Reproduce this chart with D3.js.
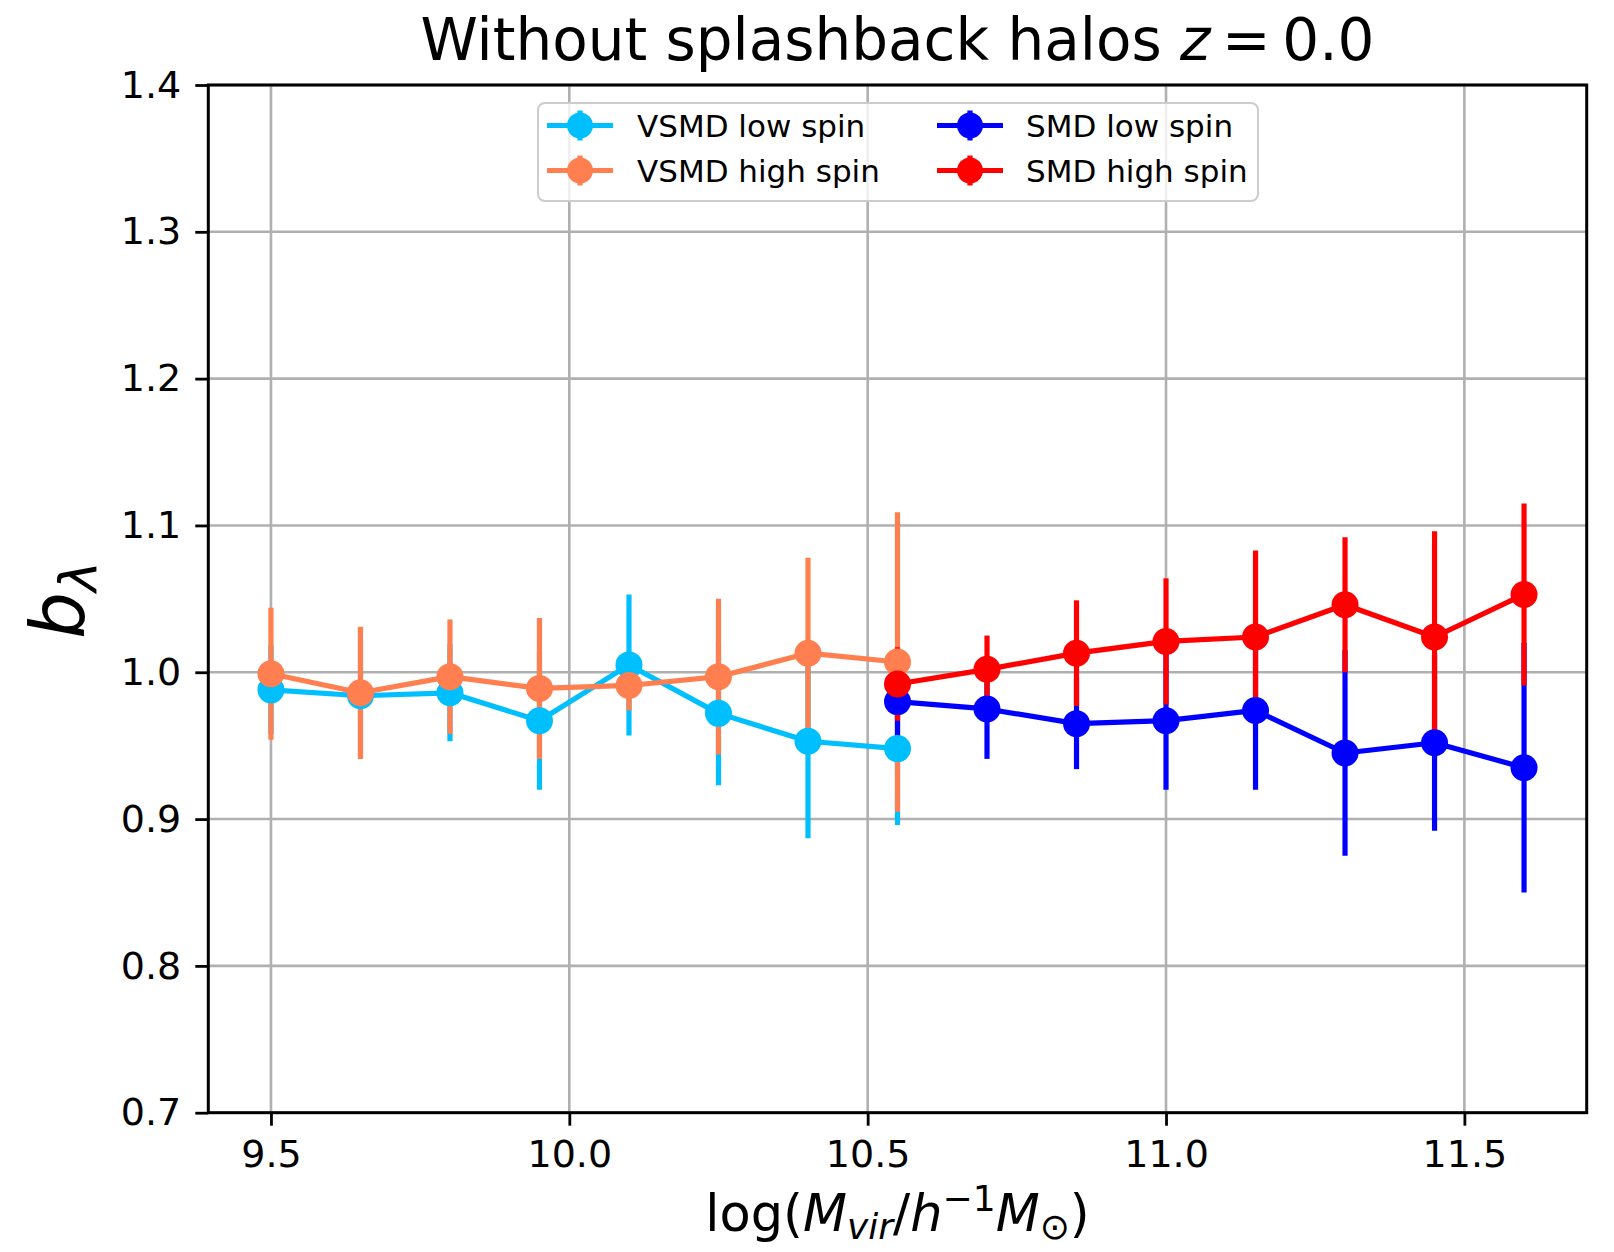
<!DOCTYPE html>
<html>
<head>
<meta charset="utf-8">
<script src="https://cdn.jsdelivr.net/npm/d3@7"></script>
<style>
  html, body { margin: 0; padding: 0; background: #ffffff; }
  svg { display: block; }
  text { font-family: "DejaVu Sans", sans-serif; fill: #000; }
</style>
</head>
<body>
<div id="chart"></div>
<script>
// ---- data ----
const massVSMD = [9.5, 9.65, 9.8, 9.95, 10.1, 10.25, 10.4, 10.55];
const vsmdLow = [0.988, 0.984, 0.986, 0.967, 1.005, 0.972, 0.953, 0.948];
const vsmdLowErr = [0.030, 0.038, 0.033, 0.047, 0.048, 0.049, 0.066, 0.052];
const vsmdHigh = [0.999, 0.986, 0.997, 0.989, 0.991, 0.997, 1.013, 1.007];
const vsmdHighErr = [0.045, 0.045, 0.039, 0.048, 0.017, 0.053, 0.065, 0.102];

const massSMD = [10.55, 10.7, 10.85, 11.0, 11.15, 11.3, 11.45, 11.6];
const smdLow = [0.980, 0.975, 0.965, 0.967, 0.974, 0.945, 0.952, 0.935];
const smdLowErr = [0.024, 0.034, 0.031, 0.047, 0.054, 0.070, 0.060, 0.085];
const smdHigh = [0.992, 1.002, 1.013, 1.021, 1.024, 1.046, 1.024, 1.053];
const smdHighErr = [0.025, 0.023, 0.036, 0.043, 0.059, 0.046, 0.072, 0.062];

const seriesNames = ["VSMD low spin", "VSMD high spin", "SMD low spin", "SMD high spin"];
const seriesColors = ["#00bfff", "#ff7f50", "#0000ff", "#ff0000"];

const xTicks = [9.5, 10.0, 10.5, 11.0, 11.5];
const yTicks = [0.7, 0.8, 0.9, 1.0, 1.1, 1.2, 1.3, 1.4];
const xDomain = [9.395, 11.705];
const yDomain = [0.7, 1.4];

const series = [
  { name: seriesNames[0], color: seriesColors[0], x: massVSMD, y: vsmdLow, e: vsmdLowErr },
  { name: seriesNames[1], color: seriesColors[1], x: massVSMD, y: vsmdHigh, e: vsmdHighErr },
  { name: seriesNames[2], color: seriesColors[2], x: massSMD, y: smdLow, e: smdLowErr },
  { name: seriesNames[3], color: seriesColors[3], x: massSMD, y: smdHigh, e: smdHighErr }
].map(s => ({ ...s, pts: s.x.map((xv, i) => ({ x: xv, y: s.y[i], e: s.e[i] })) }));

// ---- layout ----
const W = 1614, H = 1252;
const L = 208.3, R = 1586.7, T = 85, B = 1112.7;

const svg = d3.select("#chart").append("svg").attr("width", W).attr("height", H);
svg.append("rect").attr("width", W).attr("height", H).attr("fill", "#fff");

const x = d3.scaleLinear().domain(xDomain).range([L, R]);
const y = d3.scaleLinear().domain(yDomain).range([B, T]);

// grid
const grid = svg.append("g");
grid.selectAll(".gx").data(xTicks).enter().append("line")
  .attr("x1", d => x(d)).attr("x2", d => x(d)).attr("y1", T).attr("y2", B)
  .attr("stroke", "#b0b0b0").attr("stroke-width", 2.6);
grid.selectAll(".gy").data(yTicks).enter().append("line")
  .attr("x1", L).attr("x2", R).attr("y1", d => y(d)).attr("y2", d => y(d))
  .attr("stroke", "#b0b0b0").attr("stroke-width", 2.6);

// error bars first (below all lines)
const lw = 5.2;
series.forEach(s => {
  svg.append("g").selectAll("line").data(s.pts).enter().append("line")
    .attr("x1", d => x(d.x)).attr("x2", d => x(d.x))
    .attr("y1", d => y(d.y - d.e)).attr("y2", d => y(d.y + d.e))
    .attr("stroke", s.color).attr("stroke-width", lw);
});
// lines and markers
const line = d3.line().x(d => x(d.x)).y(d => y(d.y));
series.forEach(s => {
  const g = svg.append("g");
  g.append("path").datum(s.pts).attr("d", line)
    .attr("fill", "none").attr("stroke", s.color).attr("stroke-width", lw)
    .attr("stroke-linejoin", "round");
  g.selectAll("circle").data(s.pts).enter().append("circle")
    .attr("cx", d => x(d.x)).attr("cy", d => y(d.y)).attr("r", 13.5)
    .attr("fill", s.color);
});

// axes
const xAxis = d3.axisBottom(x).tickValues(xTicks).tickFormat(d3.format(".1f"))
  .tickSize(13).tickPadding(12);
const yAxis = d3.axisLeft(y).tickValues(yTicks).tickFormat(d3.format(".1f"))
  .tickSize(13).tickPadding(14);
const gx = svg.append("g").attr("transform", `translate(0,${B})`).call(xAxis);
const gy = svg.append("g").attr("transform", `translate(${L},0)`).call(yAxis);
[gx, gy].forEach(g => {
  g.select(".domain").remove();
  g.selectAll(".tick line").attr("stroke", "#000").attr("stroke-width", 2.8);
  g.selectAll(".tick text").attr("font-size", 38).attr("font-family", "DejaVu Sans").attr("fill", "#000");
});
gx.selectAll(".tick text").attr("dy", "0.76em");
// frame
svg.append("rect").attr("x", L).attr("y", T).attr("width", R - L).attr("height", B - T)
  .attr("fill", "none").attr("stroke", "#000").attr("stroke-width", 3);

// title
const title = svg.append("text").attr("x", (L + R) / 2).attr("y", 60)
  .attr("text-anchor", "middle").attr("font-size", 58);
title.append("tspan").text("Without splashback halos ");
title.append("tspan").attr("font-style", "italic").text("z");
title.append("tspan").text("\u2009=\u20090.0");

// x label
const xl = svg.append("text").attr("x", (L + R) / 2).attr("y", 1231)
  .attr("text-anchor", "middle").attr("font-size", 51);
xl.append("tspan").text("log(");
xl.append("tspan").attr("font-style", "italic").text("M");
xl.append("tspan").attr("font-style", "italic").attr("font-size", 36).attr("dy", 8).text("vir");
xl.append("tspan").attr("dy", -8).text("/");
xl.append("tspan").attr("font-style", "italic").text("h");
xl.append("tspan").attr("font-size", 36).attr("dy", -20).text("\u22121");
xl.append("tspan").attr("font-style", "italic").attr("dy", 20).text("M");
xl.append("tspan").attr("font-size", 36).attr("dy", 8).text("\u2299");
xl.append("tspan").attr("dy", -8).text(")");

// y label
const yl = svg.append("text").attr("transform", "translate(84,600) rotate(-90)")
  .attr("text-anchor", "middle").attr("font-size", 74);
yl.append("tspan").attr("font-style", "italic").text("b");
yl.append("tspan").attr("font-style", "italic").attr("font-size", 52).attr("dy", 12).text("\u03bb");

// legend
const leg = svg.append("g");
leg.append("rect").attr("x", 538).attr("y", 103).attr("width", 720).attr("height", 98)
  .attr("rx", 7).attr("fill", "#fff").attr("fill-opacity", 0.8)
  .attr("stroke", "#cccccc").attr("stroke-width", 2);
const legCols = [{ hx: 547, tx: 637 }, { hx: 937, tx: 1026 }];
const legRows = [125.5, 170.5];
series.forEach((s, i) => {
  const c = legCols[Math.floor(i / 2)], ry = legRows[i % 2];
  const g = leg.append("g");
  g.append("line").attr("x1", c.hx).attr("x2", c.hx + 66).attr("y1", ry).attr("y2", ry)
    .attr("stroke", s.color).attr("stroke-width", lw);
  g.append("line").attr("x1", c.hx + 33).attr("x2", c.hx + 33).attr("y1", ry - 15).attr("y2", ry + 15)
    .attr("stroke", s.color).attr("stroke-width", lw);
  g.append("circle").attr("cx", c.hx + 33).attr("cy", ry).attr("r", 13).attr("fill", s.color);
  g.append("text").attr("x", c.tx).attr("y", ry + 11).attr("font-size", 31).text(s.name);
});
</script>
</body>
</html>
